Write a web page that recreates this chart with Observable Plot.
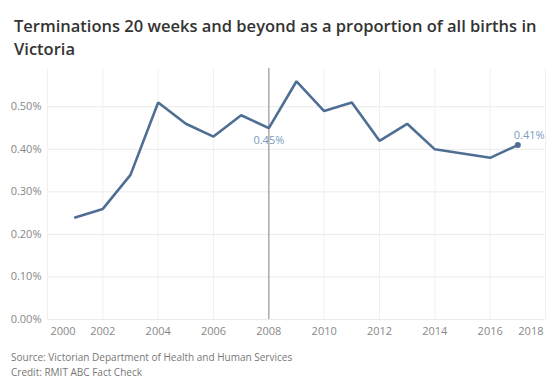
<!DOCTYPE html>
<html>
<head>
<meta charset="utf-8">
<script src="https://cdn.jsdelivr.net/npm/d3@7"></script>
<script src="https://cdn.jsdelivr.net/npm/@observablehq/plot@0.6"></script>
<style>
  html, body { margin: 0; padding: 0; background: #fff; }
  body { width: 555px; height: 390px; overflow: hidden; font-family: "Open Sans", sans-serif; }
  #title { position: absolute; left: 14px; top: 14px; width: 540px; font-size: 16.5px; font-weight: 600; color: #333; line-height: 23px; }
  #chart { position: absolute; left: 0; top: 62px; }
  #foot { position: absolute; left: 11px; top: 350px; font-size: 10px; color: #777; line-height: 15px; }
</style>
</head>
<body>
<div id="title">Terminations 20 weeks and beyond as a proportion of all births in Victoria</div>
<div id="chart"></div>
<div id="foot">Source: Victorian Department of Health and Human Services<br>Credit: RMIT ABC Fact Check</div>
<script>
const years = [2001, 2002, 2003, 2004, 2005, 2006, 2007, 2008, 2009, 2010, 2011, 2012, 2013, 2014, 2015, 2016, 2017];
const rates = [0.24, 0.26, 0.34, 0.51, 0.46, 0.43, 0.48, 0.45, 0.56, 0.49, 0.51, 0.42, 0.46, 0.40, 0.39, 0.38, 0.41];
const xTicks = [2000, 2002, 2004, 2006, 2008, 2010, 2012, 2014, 2016, 2018];
const yTicks = [0, 0.1, 0.2, 0.3, 0.4, 0.5];
const markedYear = 2008;
const lastYear = 2017;

const data = years.map((y, i) => ({year: y, rate: rates[i]}));
const marked = data.filter(d => d.year === markedYear);
const last = data.filter(d => d.year === lastYear);
const fmt = v => v.toFixed(2) + "%";

const plot = Plot.plot({
  width: 555,
  height: 283,
  marginTop: 6,
  marginBottom: 26,
  marginLeft: 47,
  marginRight: 10,
  style: {fontFamily: "Open Sans, sans-serif", fontSize: "11px", color: "#888", background: "#fff"},
  x: {domain: [2000, 2018], label: null},
  y: {domain: [0, 0.59], label: null},
  marks: [
    Plot.gridY(yTicks, {stroke: "#ebebeb", strokeOpacity: 1}),
    Plot.gridX(xTicks, {stroke: "#f0f0f0", strokeOpacity: 1}),
    Plot.axisY({ticks: yTicks, tickFormat: fmt, tickSize: 0, tickPadding: 6, fill: "#888", label: null}),
    Plot.axisX({ticks: xTicks.slice(1, -1), tickFormat: d => String(d), tickSize: 0, tickPadding: 8, fill: "#888", label: null}),
    Plot.axisX({ticks: xTicks.slice(0, 1), tickFormat: d => String(d), tickSize: 0, tickPadding: 8, fill: "#888", textAnchor: "start", dx: 3, label: null}),
    Plot.axisX({ticks: xTicks.slice(-1), tickFormat: d => String(d), tickSize: 0, tickPadding: 8, fill: "#888", textAnchor: "end", dx: -2, label: null}),
    Plot.ruleX([markedYear], {stroke: "#999", strokeWidth: 1.2}),
    Plot.line(data, {x: "year", y: "rate", stroke: "#4e6e94", strokeWidth: 2.6, strokeLinejoin: "miter"}),
    Plot.dot(last, {x: "year", y: "rate", fill: "#4e6e94", r: 3}),
    Plot.text(marked, {x: "year", y: "rate", text: d => fmt(d.rate), dy: 12, fill: "#7a9bbf", fontSize: 11}),
    Plot.text(last, {x: "year", y: "rate", text: d => fmt(d.rate), textAnchor: "start", dx: -4, dy: -10, fill: "#7a9bbf", fontSize: 11})
  ]
});
document.getElementById("chart").appendChild(plot);
</script>
</body>
</html>
